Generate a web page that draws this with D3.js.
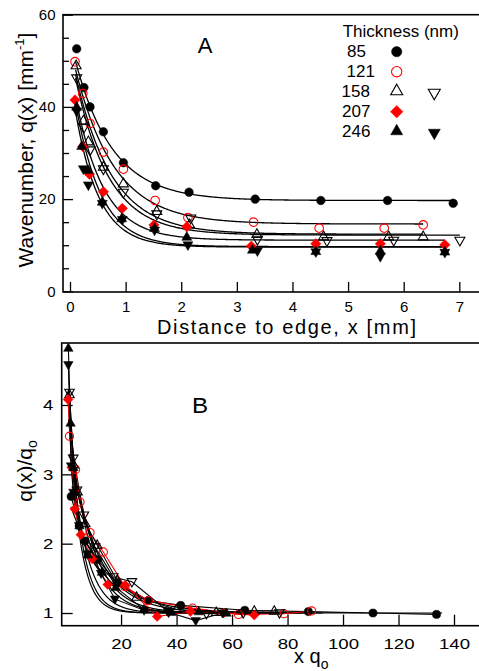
<!DOCTYPE html>
<html><head><meta charset="utf-8">
<script src="https://cdn.jsdelivr.net/npm/d3@7"></script>
<style>
body{margin:0;background:#fff}
text{font-family:"Liberation Sans",Arial,Helvetica,sans-serif;fill:#000}
</style>
</head><body>
<svg id="chart" width="479" height="671"></svg>
<script>
// ---------- DATA ----------
const thickness = ["85", "121", "158", "158", "207", "246", "246"];

// Panel A: distance to edge x [mm], wavenumber q(x) [mm^-1]
const A_85    = [[0.12,52.6],[0.25,44.2],[0.36,40.0],[0.60,34.6],[0.96,27.9],[1.54,22.9],[2.14,21.5],[3.33,20.0],[4.51,19.7],[5.71,19.7],[6.89,19.1]];
const A_121   = [[0.09,49.8],[0.23,42.9],[0.36,36.4],[0.60,30.2],[0.96,26.5],[1.53,19.7],[2.12,16.0],[3.30,15.0],[4.48,13.7],[5.65,13.7],[6.35,14.4]];
const A_158up = [[0.11,49.0],[0.24,37.0],[0.33,32.5],[0.60,27.0],[0.96,23.4],[1.56,17.4],[2.15,14.5],[3.36,12.4],[4.56,11.9],[5.73,11.9],[6.35,11.9]];
const A_158dn = [[0.12,46.2],[0.25,35.5],[0.36,30.6],[0.60,26.5],[0.96,21.4],[1.56,16.7],[2.17,15.8],[3.37,11.2],[4.62,10.9],[5.82,11.0],[7.01,11.0]];
const A_207   = [[0.09,41.5],[0.23,31.4],[0.35,25.4],[0.60,21.6],[0.94,18.0],[1.51,14.4],[2.10,14.0],[3.26,9.8],[4.42,10.3],[5.58,10.3],[6.74,10.1]];
const A_246up = [[0.12,40.0],[0.21,31.5],[0.33,26.3],[0.58,19.4],[0.93,15.8],[1.52,13.7],[2.10,11.8],[3.28,9.0],[4.42,8.7],[5.58,8.8],[6.74,8.6]];
const A_246dn = [[0.12,39.0],[0.24,26.5],[0.33,23.0],[0.58,19.0],[0.94,15.5],[1.52,13.2],[2.12,10.0],[3.37,8.7],[4.42,8.5],[5.58,7.5],[6.74,8.4]];

// Panel B: x q0, q(x)/q0
const B_85    = [[2.0,2.68],[4.9,2.26],[7.0,2.04],[11.6,1.77],[18.6,1.43],[29.9,1.18],[41.5,1.11],[64.6,1.04],[87.5,1.02],[110.8,1.0],[133.7,0.98]];
const B_121   = [[1.4,3.55],[3.6,3.07],[5.2,2.60],[8.8,2.16],[13.6,1.88],[21.4,1.38],[29.8,1.18],[45.8,1.07],[62.3,0.98],[78.7,0.99],[88.7,1.03]];
const B_158up = [[1.4,4.15],[2.9,3.14],[4.3,2.75],[7.1,2.29],[11.4,1.98],[18.6,1.47],[25.6,1.23],[40.0,1.05],[54.3,1.01],[68.0,1.03],[75.2,1.03]];
const B_158dn = [[1.4,4.18],[2.75,3.23],[4.1,2.77],[6.6,2.41],[10.6,1.95],[17.2,1.52],[23.9,1.45],[37.1,1.02],[50.8,0.99],[64.0,1.0],[77.1,1.0]];
const B_207   = [[0.9,4.08],[2.2,3.10],[3.3,2.50],[5.5,2.13],[9.6,1.78],[15.2,1.41],[21.5,1.40],[33.0,0.95],[45.0,1.02],[56.9,1.0],[68.0,0.97]];
const B_246up = [[1.0,4.82],[1.8,3.74],[2.8,3.10],[5.0,2.26],[8.0,1.84],[13.1,1.59],[18.1,1.37],[28.2,1.05],[38.0,1.01],[48.0,1.02],[58.0,1.0]];
const B_246dn = [[1.0,4.58],[2.0,3.12],[2.8,2.74],[4.9,2.26],[7.9,1.85],[12.8,1.57],[17.8,1.20],[28.3,1.04],[37.1,1.01],[46.9,0.89],[56.6,1.0]];

// Exponential fits q(x) = qInf + amp * exp(-x / len)
const fitQinf = [19.7, 14.6, 12.4, 12.2, 11.1, 9.7, 9.6];
const fitAmp  = [35.0, 38.6, 40.4, 40.2, 37.9, 39.1, 37.3];
const fitLen  = [0.67, 0.70, 0.65, 0.60, 0.50, 0.45, 0.42];
const fitStart = [0.10, 0.10, 0.10, 0.10, 0.10, 0.10, 0.10];
const fitEnd   = [6.89, 6.35, 6.35, 7.01, 6.74, 6.74, 6.74];

// Tick labels
const xTicksA = [0, 1, 2, 3, 4, 5, 6, 7];
const yTicksA = [0, 20, 40, 60];
const yMinorA = [5, 10, 15, 25, 30, 35, 45, 50, 55];
const xTicksB = [20, 40, 60, 80, 100, 120, 140];
const yTicksB = [1, 2, 3, 4];

// ---------- STYLE ----------
const seriesA = [A_85, A_121, A_158up, A_158dn, A_207, A_246up, A_246dn];
const seriesB = [B_85, B_121, B_158up, B_158dn, B_207, B_246up, B_246dn];
const shape  = ["circle", "circle", "up", "down", "diamond", "up", "down"];
const filled = [true, false, false, false, true, true, true];
const color  = ["#000", "#f00", "#000", "#000", "#f00", "#000", "#000"];

function markerPath(k, s) {
  if (k === "circle") { const r = 4.3 * s; return `M${-r},0a${r},${r} 0 1,0 ${2*r},0a${r},${r} 0 1,0 ${-2*r},0Z`; }
  if (k === "up") return `M0,${-5.4*s}L${5*s},${3.4*s}L${-5*s},${3.4*s}Z`;
  if (k === "down") return `M0,${5.4*s}L${5*s},${-3.4*s}L${-5*s},${-3.4*s}Z`;
  return `M0,${-5.2*s}L${5.2*s},0L0,${5.2*s}L${-5.2*s},0Z`;
}
function drawMarkers(g, pts, i, xs, ys, s) {
  g.selectAll(null).data(pts).enter().append("path")
    .attr("transform", d => `translate(${xs(d[0])},${ys(d[1])})`)
    .attr("d", markerPath(shape[i], s))
    .attr("fill", filled[i] ? color[i] : "none")
    .attr("stroke", color[i])
    .attr("stroke-width", filled[i] ? 0.5 : 1.1);
}

const svg = d3.select("#chart");

// ---------- PANEL A ----------
const xA = d3.scaleLinear().domain([-0.126, 7.39]).range([63, 481]);
const yA = d3.scaleLinear().domain([-0.15, 60]).range([292, 14.7]);
const gA = svg.append("g");

const axA_x = d3.axisBottom(xA).tickValues(xTicksA).tickSize(-10).tickSizeOuter(0).tickPadding(9.5).tickFormat(d3.format("d"));
gA.append("g").attr("transform", "translate(0,292)").call(axA_x)
  .call(g => g.select(".domain").remove())
  .call(g => g.selectAll("text").attr("font-size", 15).attr("font-family", null))
  .call(g => g.selectAll("line").attr("stroke-width", 1.3));
const axA_y = d3.axisLeft(yA).tickValues(yTicksA).tickSize(-10).tickSizeOuter(0).tickPadding(7.5);
gA.append("g").attr("transform", "translate(63,0)").call(axA_y)
  .call(g => g.select(".domain").remove())
  .call(g => g.selectAll("text").attr("font-size", 15).attr("font-family", null))
  .call(g => g.selectAll("line").attr("stroke-width", 1.3));
const axA_ym = d3.axisLeft(yA).tickValues(yMinorA).tickSize(-6).tickSizeOuter(0).tickFormat("");
gA.append("g").attr("transform", "translate(63,0)").call(axA_ym)
  .call(g => g.select(".domain").remove())
  .call(g => g.selectAll("line").attr("stroke-width", 1.3));

gA.append("rect").attr("x", 63).attr("y", 14.7).attr("width", 420).attr("height", 292 - 14.7)
  .attr("fill", "none").attr("stroke", "#000").attr("stroke-width", 1.6);

const lineA = d3.line().x(d => xA(d[0])).y(d => yA(d[1]));
fitQinf.forEach((qi, i) => {
  const pts = d3.range(fitStart[i], fitEnd[i], 0.02).concat([fitEnd[i]])
    .map(x => [x, qi + fitAmp[i] * Math.exp(-x / fitLen[i])]);
  gA.append("path").attr("d", lineA(pts)).attr("fill", "none").attr("stroke", "#000").attr("stroke-width", 1.3);
});
seriesA.forEach((pts, i) => drawMarkers(gA, pts, i, xA, yA, 1));

gA.append("text").attr("x", 205).attr("y", 53).attr("text-anchor", "middle").attr("font-size", 22).text("A");

gA.append("text").attr("x", 157).attr("y", 334).attr("font-size", 20)
  .attr("textLength", 259).attr("lengthAdjust", "spacing")
  .text("Distance to edge, x [mm]");
const ytA = gA.append("text").attr("transform", "translate(33,150) rotate(-90)")
  .attr("text-anchor", "middle").attr("font-size", 21);
ytA.append("tspan").text("Wavenumber, q(x) [mm");
ytA.append("tspan").attr("font-size", 13).attr("dy", -9).text("-1");
ytA.append("tspan").attr("dy", 9).text("]");

// legend
const lg = gA.append("g");
lg.append("text").attr("x", 342.7).attr("y", 37).attr("font-size", 17).text("Thickness (nm)");
const legRows = [0, 1, 2, 4, 5];
const legX = [347, 346.5, 341.5, 342, 342];
legRows.forEach((si, r) => {
  lg.append("text").attr("x", legX[r]).attr("y", 57.3 + r * 20).attr("font-size", 17).text(thickness[si]);
});
const legSym = [[0, 0, 396.7, 51.7], [1, 1, 396.7, 71.7], [2, 2, 396.7, 90.7], [3, 2, 434.3, 93.3],
                [4, 3, 396.7, 111.7], [5, 4, 396.7, 130.7], [6, 4, 434.3, 133.3]];
legSym.forEach(([si, r, x, y]) => {
  lg.append("path").attr("transform", `translate(${x},${y})`).attr("d", markerPath(shape[si], 1.2))
    .attr("fill", filled[si] ? color[si] : "none").attr("stroke", color[si])
    .attr("stroke-width", filled[si] ? 0.5 : 1.1);
});

// ---------- PANEL B ----------
const xB = d3.scaleLinear().domain([-1.4, 150]).range([61.7, 65.5 + 2.775 * 150]);
const yB = d3.scaleLinear().domain([0.817, 4.894]).range([625.7, 343]);
const gB = svg.append("g");

const axB_x = d3.axisBottom(xB).tickValues(xTicksB).tickSize(-11).tickSizeOuter(0).tickPadding(12.3).tickFormat(d3.format("d"));
gB.append("g").attr("transform", "translate(0,625.7)").call(axB_x)
  .call(g => g.select(".domain").remove())
  .call(g => g.selectAll("text").attr("font-size", 15.5).attr("font-family", null).attr("transform", "scale(1.2,1)"))
  .call(g => g.selectAll("line").attr("stroke-width", 1.3));
const axB_y = d3.axisLeft(yB).tickValues(yTicksB).tickSize(-11).tickSizeOuter(0).tickPadding(7).tickFormat(d3.format("d"));
gB.append("g").attr("transform", "translate(61.7,0)").call(axB_y)
  .call(g => g.select(".domain").remove())
  .call(g => g.selectAll("text").attr("font-size", 15.5).attr("font-family", null).attr("transform", "scale(1.2,1)"))
  .call(g => g.selectAll("line").attr("stroke-width", 1.3));

gB.append("rect").attr("x", 61.7).attr("y", 343).attr("width", 425).attr("height", 625.7 - 343)
  .attr("fill", "none").attr("stroke", "#000").attr("stroke-width", 1.6);

const lineB = d3.line().x(d => xB(d[0])).y(d => yB(d[1]));
fitQinf.forEach((qi, i) => {
  const pts = d3.range(fitStart[i], fitEnd[i], 0.01).concat([fitEnd[i]])
    .map(x => [x * qi, 1 + (fitAmp[i] / qi) * Math.exp(-x / fitLen[i])]);
  gB.append("path").attr("d", lineB(pts)).attr("fill", "none").attr("stroke", "#000").attr("stroke-width", 1.2);
});
seriesB.forEach((pts, i) => {
  gB.append("path").attr("d", lineB(pts)).attr("fill", "none").attr("stroke", color[i]).attr("stroke-width", 1.1);
});
seriesB.forEach((pts, i) => drawMarkers(gB, pts, i, xB, yB, 0.95));

gB.append("text").attr("x", 200).attr("y", 413).attr("text-anchor", "middle").attr("font-size", 22)
  .attr("transform", "translate(200,0) scale(1.1,1) translate(-200,0)").text("B");

const xtB = gB.append("text").attr("x", 294).attr("y", 663).attr("font-size", 20);
xtB.append("tspan").text("x q");
xtB.append("tspan").attr("font-size", 14).attr("dy", 6).text("o");

const ytB = gB.append("text").attr("transform", "translate(32,471) rotate(-90)")
  .attr("text-anchor", "middle").attr("font-size", 21);
ytB.append("tspan").text("q(x)/q");
ytB.append("tspan").attr("font-size", 14).attr("dy", 5).text("o");
</script>
</body></html>
